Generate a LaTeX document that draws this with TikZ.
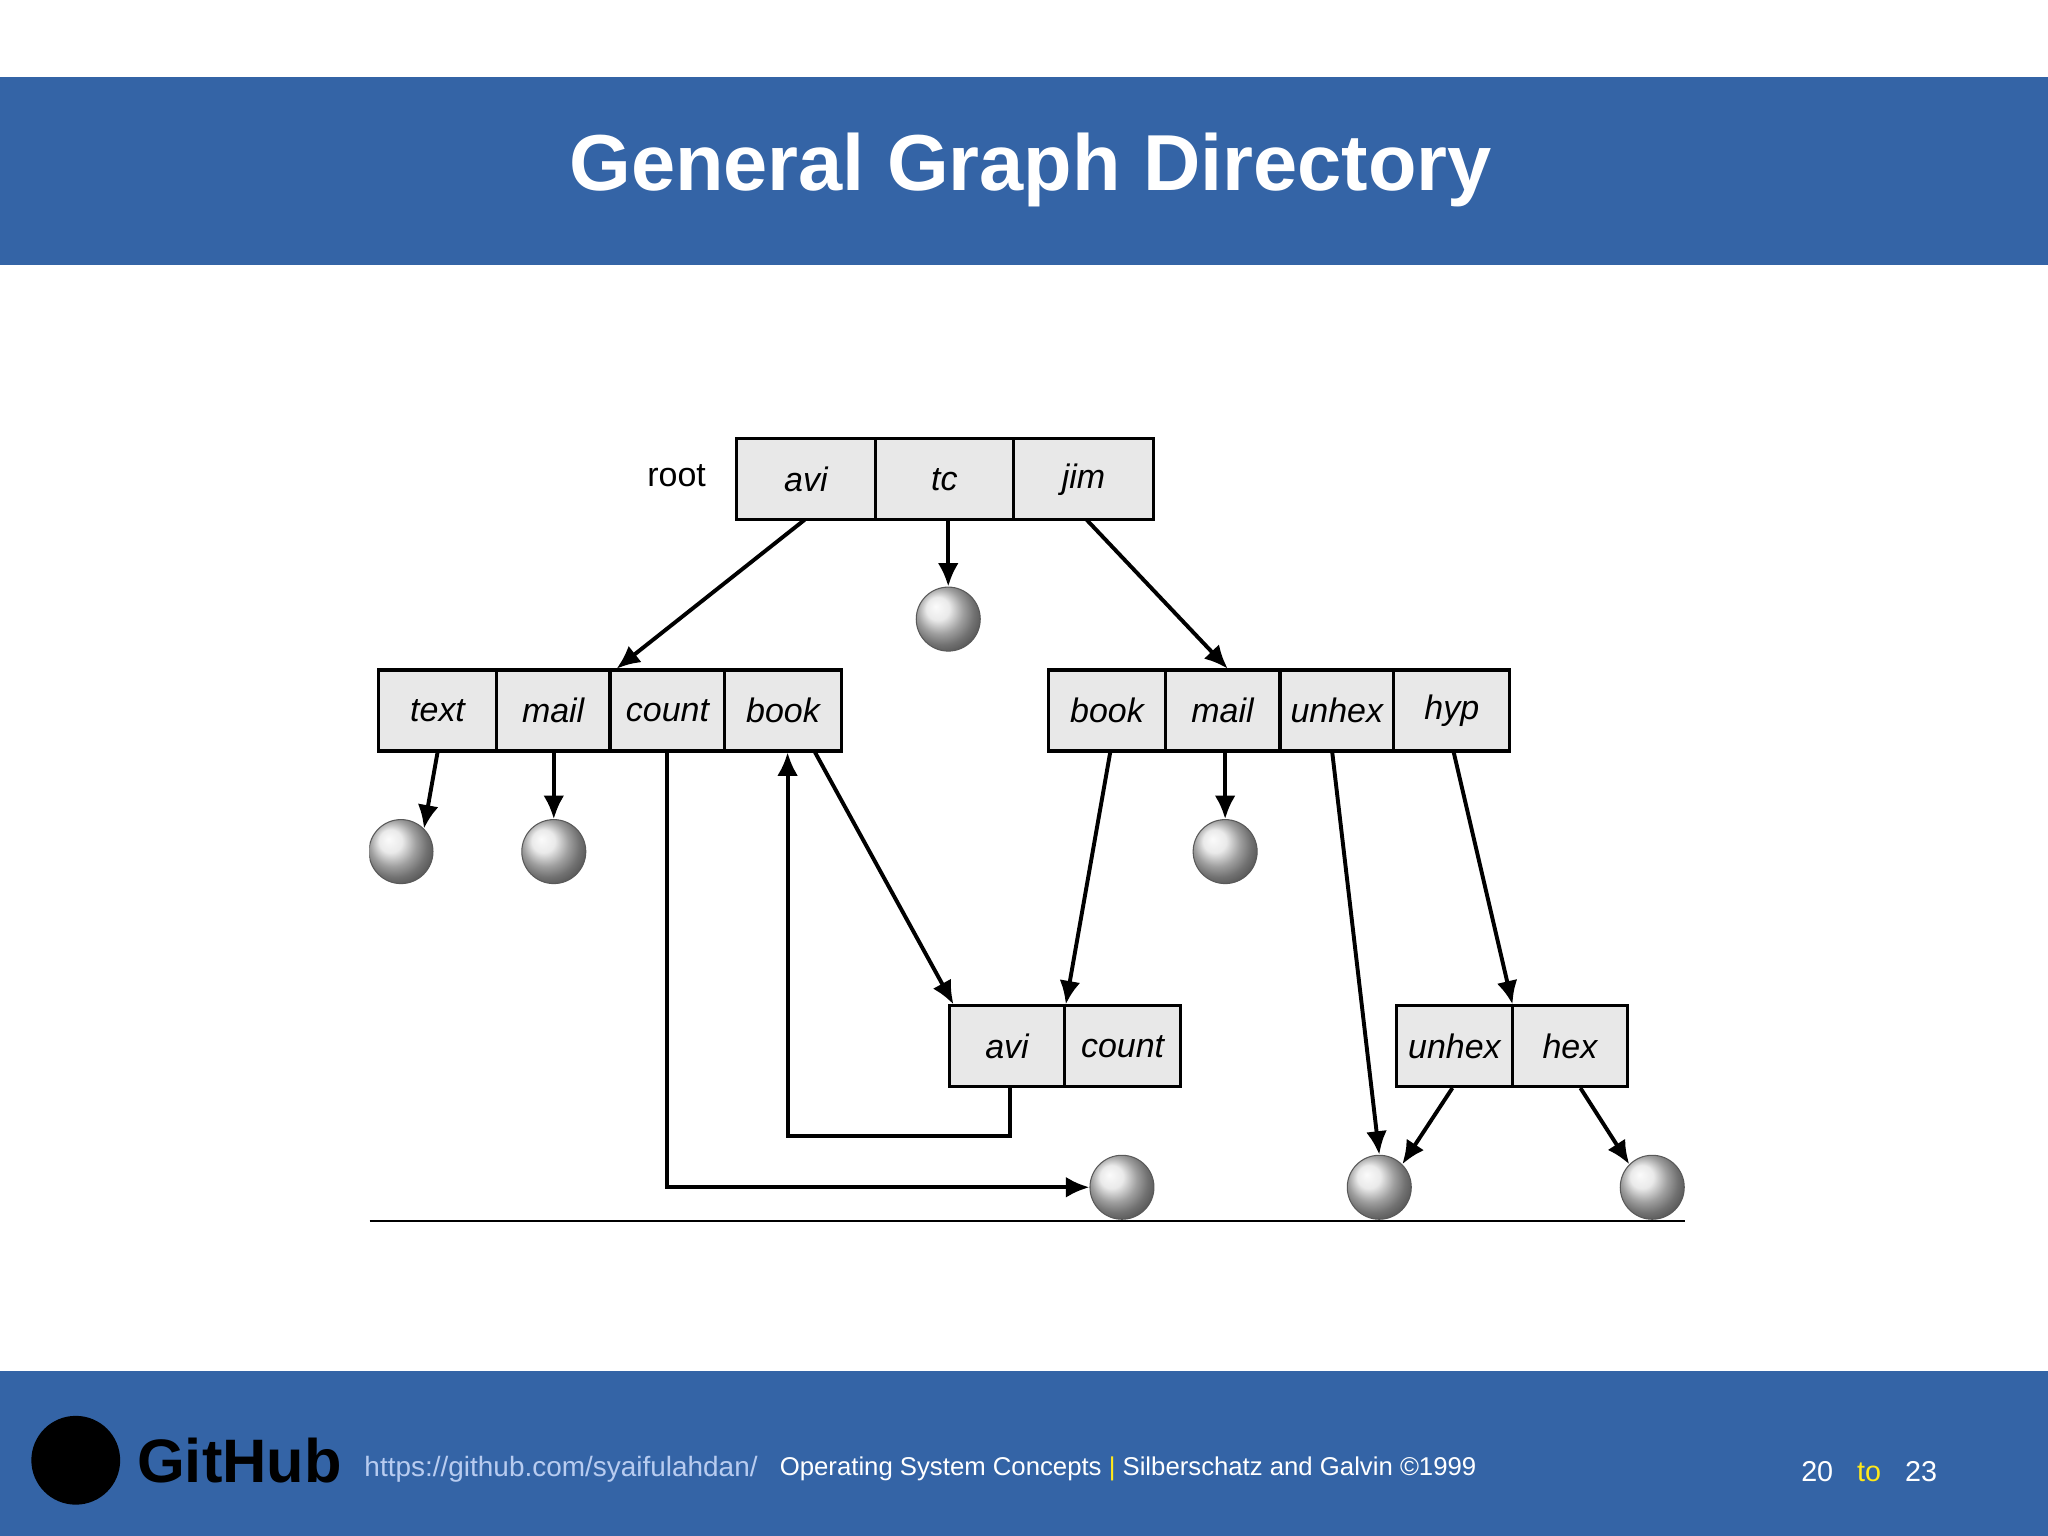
\documentclass[tikz,border=0pt]{standalone}
\usepackage{fontspec}
\setmainfont{Liberation Sans}
\usetikzlibrary{arrows.meta}
\definecolor{band}{HTML}{3464A6}
\definecolor{cellc}{HTML}{E8E8E8}
\definecolor{linkc}{HTML}{B8CCF0}
\definecolor{yel}{HTML}{FFE81A}
\begin{document}
\begin{tikzpicture}[x=0.5pt,y=-0.5pt,
  cell/.style={draw,line width=1.2pt,fill=cellc,minimum height=31pt,inner sep=0,font=\fontsize{13}{13}\selectfont\itshape},
  ball/.style={circle,minimum size=24.5pt,inner sep=0,ball color=gray!22,draw=gray!70!black,line width=0.4pt},
  arr/.style={line width=1.5pt,-{Latex[length=9pt,width=8pt]}}]
\useasboundingbox (0,0) rectangle (1568,1176);
\fill[white] (0,0) rectangle (1568,1176);
\fill[band] (0,59) rectangle (1568,203);
\node[text=white,font=\fontsize{30.4}{30}\selectfont\bfseries] (title) at (789,130) {General Graph Directory};
\fill[band] (0,1050) rectangle (1568,1176);
% cells
\newcommand{\cellat}[5]{\node[cell,minimum width={(#3-#2)*0.5pt}] (#1) at ({(#2+#3)/2},#4) {#5};}
\cellat{ravi}{564}{670}{367}{avi}
\cellat{rtc}{670}{776}{367}{tc}
\cellat{rjim}{776}{883}{367}{jim}
\node[font=\fontsize{13}{13}\selectfont] (root) at (518,364) {root};
\cellat{atext}{290}{380}{544}{text}
\cellat{amail}{380}{467}{544}{mail}
\cellat{acount}{467}{555}{544}{count}
\cellat{abook}{555}{644}{544}{book}
\cellat{jbook}{803}{892}{544}{book}
\cellat{jmail}{892}{980}{544}{mail}
\cellat{junhex}{980}{1067}{544}{unhex}
\cellat{jhyp}{1067}{1156}{544}{hyp}
\cellat{bavi}{727}{815}{801}{avi}
\cellat{bcount}{815}{904}{801}{count}
\cellat{hunhex}{1069}{1158}{801}{unhex}
\cellat{hhex}{1158}{1246}{801}{hex}
% balls
\begin{scope}
\clip (283,0) rectangle (1290,1176);
\node[ball] (btc) at (726,474) {};
\node[ball] (btext) at (307,652) {};
\node[ball] (bmail) at (424,652) {};
\node[ball] (bjmail) at (938,652) {};
\node[ball] (bcnt) at (859,909) {};
\node[ball] (bunhex) at (1056,909) {};
\node[ball] (bhex) at (1265,909) {};
\end{scope}
\draw[line width=0.8pt] (283,935) coordinate (l1) -- (1290,935) coordinate (l2);
% arrows
\draw[arr] (616,398) -- (472,512);
\draw[arr] (726,398) -- (btc.north);
\draw[arr] (832,398) -- (940,512);
\draw[arr] (335,576) -- (btext.north east);
\draw[arr] (424,576) -- (bmail.north);
\draw[arr] (511,576) -- (511,909) -- (bcnt.west);
\draw[arr] (773,833) -- (773,870) -- (603,870) -- (603,576);
\draw[arr] (624,576) -- (730,769);
\draw[arr] (850,576) -- (816,769);
\draw[arr] (938,576) -- (bjmail.north);
\draw[arr] (1020,576) -- (bunhex.north);
\draw[arr] (1113,576) -- (1158,769);
\draw[arr] (1112,833) -- (bunhex.north east);
\draw[arr] (1210,833) -- (bhex.north west);
% footer
\fill[black] (58,1118) circle (34);
\node[font=\fontsize{23.5}{24}\selectfont\bfseries,anchor=west] (gh) at (98,1118) {GitHub};
\node[anchor=west,text=linkc,font=\fontsize{10.7}{11}\selectfont] (url) at (272,1125) {https://github.com/syaifulahdan/};
\node[anchor=west,text=white,font=\fontsize{9.85}{10}\selectfont] (osc) at (590,1125) {Operating System Concepts \textcolor{yel}{|} Silberschatz and Galvin \copyright1999};
\node[anchor=west,text=white,font=\fontsize{11}{11}\selectfont] (pg) at (1372,1127) {20 \ \ \textcolor{yel}{to} \ \ 23};
\end{tikzpicture}
\end{document}
